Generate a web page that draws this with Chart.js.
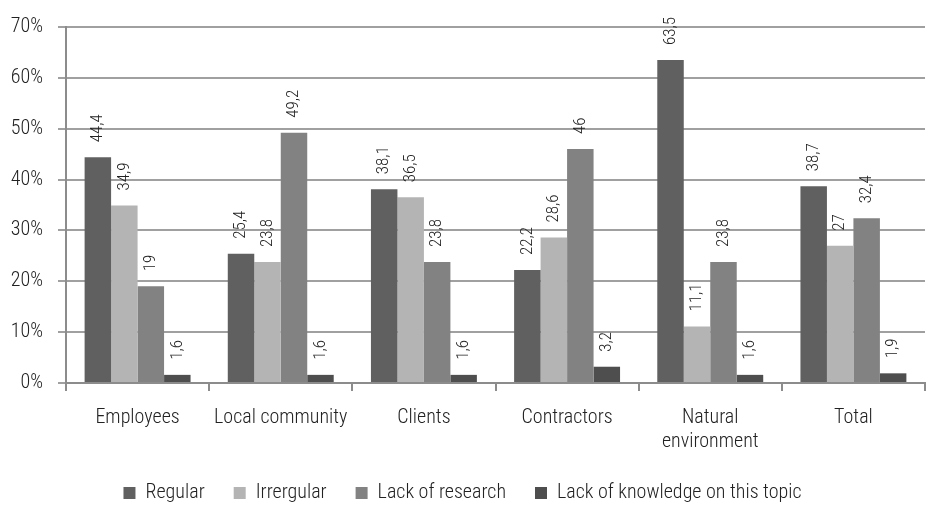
<!DOCTYPE html>
<html>
<head>
<meta charset="utf-8">
<script src="https://cdn.jsdelivr.net/npm/chart.js@4.4.1/dist/chart.umd.min.js"></script>
<style>
  html, body { margin: 0; padding: 0; background: #fff; }
  #wrap { width: 932px; height: 505px; position: relative; }
</style>
</head>
<body>
<div id="wrap"><canvas id="chart" width="932" height="505"></canvas></div>
<script>
const categories = ['Employees', 'Local community', 'Clients', 'Contractors', ['Natural', 'environment'], 'Total'];
const regular = [44.4, 25.4, 38.1, 22.2, 63.5, 38.7];
const irregular = [34.9, 23.8, 36.5, 28.6, 11.1, 27];
const lackOfResearch = [19, 49.2, 23.8, 46, 23.8, 32.4];
const lackOfKnowledge = [1.6, 1.6, 1.6, 3.2, 1.6, 1.9];
const yTicks = [0, 10, 20, 30, 40, 50, 60, 70];

const FONT = '"Roboto Condensed", "Liberation Sans Narrow", Roboto, sans-serif';
const TEXT = '#222';

// value labels written vertically above each bar, with a decimal comma
const barLabels = {
  id: 'barLabels',
  afterDatasetsDraw(chart) {
    const ctx = chart.ctx;
    ctx.save();
    ctx.font = '300 17px ' + FONT;
    ctx.fillStyle = TEXT;
    ctx.textAlign = 'left';
    ctx.textBaseline = 'middle';
    chart.data.datasets.forEach((ds, i) => {
      chart.getDatasetMeta(i).data.forEach((bar, j) => {
        const txt = String(ds.data[j]).replace('.', ',');
        ctx.save();
        ctx.translate(bar.x, bar.y - 15);
        ctx.rotate(-Math.PI / 2);
        ctx.fillText(txt, 0, 0);
        ctx.restore();
      });
    });
    ctx.restore();
  }
};

function series(label, data, color) {
  return {
    label: label,
    data: data,
    backgroundColor: color,
    borderWidth: 0,
    barPercentage: 1,
    categoryPercentage: 0.74
  };
}

new Chart(document.getElementById('chart').getContext('2d'), {
  type: 'bar',
  data: {
    labels: categories,
    datasets: [
      series('Regular', regular, '#606060'),
      series('Irrergular', irregular, '#b4b4b4'),
      series('Lack of research', lackOfResearch, '#828282'),
      series('Lack of knowledge on this topic', lackOfKnowledge, '#4e4e4e')
    ]
  },
  options: {
    responsive: false,
    animation: false,
    layout: { padding: { top: 12, right: 7, left: 0, bottom: -8 } },
    plugins: {
      tooltip: { enabled: false },
      legend: {
        position: 'bottom',
        labels: {
          font: { family: FONT, size: 20, weight: '300' },
          color: TEXT,
          boxWidth: 12,
          boxHeight: 12,
          padding: 29
        }
      }
    },
    scales: {
      x: {
        grid: { display: true, drawOnChartArea: false, drawTicks: true, tickLength: 8, color: '#8c8c8c', lineWidth: 2 },
        border: { display: true, color: '#8c8c8c', width: 2 },
        ticks: { font: { family: FONT, size: 20, weight: '300' }, color: TEXT, padding: 15, maxRotation: 0 },
        afterFit(axis) { axis.height = 71; }
      },
      y: {
        min: 0,
        max: 70,
        afterBuildTicks(axis) { axis.ticks = yTicks.map(v => ({ value: v })); },
        grid: { color: '#a0a0a0', lineWidth: 2, tickLength: 8 },
        border: { display: true, color: '#8c8c8c', width: 2 },
        ticks: {
          font: { family: FONT, size: 20, weight: '300' },
          color: TEXT,
          padding: 15,
          callback: v => v + '%'
        },
        afterFit(axis) { axis.width = 66; }
      }
    }
  },
  plugins: [barLabels]
});
</script>
</body>
</html>
